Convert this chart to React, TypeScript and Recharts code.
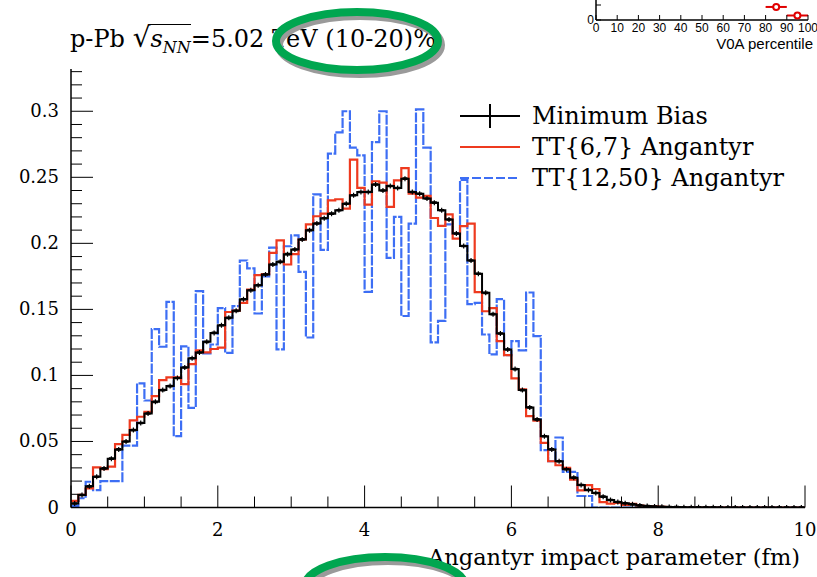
import React from 'react'
import { ComposedChart, Line, Scatter, XAxis, YAxis, ScatterChart, ErrorBar } from 'recharts'

// bin contents, 100 bins of 0.1 fm from 0 to 10 fm
const minBias = [
  0.003, 0.0095, 0.016, 0.0233, 0.0296, 0.037, 0.044, 0.05, 0.0586, 0.064,
  0.0712, 0.08, 0.0889, 0.0919, 0.098, 0.106, 0.113, 0.1174, 0.1254, 0.1322,
  0.138, 0.1436, 0.1489, 0.1577, 0.1645, 0.1683, 0.1764, 0.184, 0.186, 0.1918,
  0.1953, 0.203, 0.21, 0.215, 0.219, 0.2225, 0.225, 0.23, 0.2364, 0.2389,
  0.2389, 0.2445, 0.24, 0.2434, 0.2419, 0.249, 0.2389, 0.2376, 0.2339, 0.2308,
  0.225, 0.218, 0.2074, 0.198, 0.187, 0.177, 0.1625, 0.1464, 0.1317, 0.1196,
  0.1048, 0.0889, 0.0758, 0.0667, 0.054, 0.044, 0.035, 0.029, 0.0226, 0.017,
  0.0132, 0.011, 0.0082, 0.0057, 0.0042, 0.0032, 0.0024, 0.0016, 0.0011, 0.0008,
  0.0006, 0.0004, 0.0003, 0.0002, 0.0002, 0.0001, 0.0001, 0.0001, 0, 0,
  0, 0, 0, 0, 0, 0, 0, 0, 0, 0,
]

const tt67 = [
  0.005, 0.0095, 0.0145, 0.0304, 0.029, 0.031, 0.048, 0.055, 0.066, 0.0687,
  0.0725, 0.0843, 0.0964, 0.0985, 0.0985, 0.0934, 0.1085, 0.119, 0.1174, 0.12,
  0.121, 0.148, 0.149, 0.155, 0.165, 0.176, 0.1767, 0.1928, 0.2023, 0.184,
  0.1918, 0.2029, 0.2144, 0.2205, 0.2225, 0.2326, 0.2334, 0.2263, 0.2634, 0.242,
  0.2293, 0.247, 0.246, 0.2276, 0.2477, 0.257, 0.2376, 0.2346, 0.2359, 0.2192,
  0.2132, 0.222, 0.2036, 0.213, 0.215, 0.163, 0.1486, 0.151, 0.126, 0.1154,
  0.0977, 0.0894, 0.0692, 0.0657, 0.049, 0.035, 0.032, 0.03, 0.021, 0.013,
  0.017, 0.014, 0.004, 0.003, 0.0035, 0.002, 0.0027, 0.0015, 0.001, 0.0008,
  0.0005, 0.0003, 0.0002, 0, 0, 0, 0, 0, 0, 0,
  0, 0, 0, 0, 0, 0, 0, 0, 0, 0,
]

const tt1250 = [
  0.001, 0.007, 0.0195, 0.0132, 0.02, 0.02, 0.02, 0.0468, 0.0468, 0.094,
  0.081, 0.135, 0.1217, 0.1557, 0.054, 0.122, 0.0755, 0.1638, 0.1166, 0.1234,
  0.151, 0.117, 0.1524, 0.187, 0.181, 0.1469, 0.175, 0.1968, 0.1197, 0.1978,
  0.206, 0.1784, 0.1287, 0.237, 0.195, 0.268, 0.284, 0.3, 0.2724, 0.2666,
  0.1633, 0.2767, 0.3, 0.189, 0.22, 0.145, 0.215, 0.3014, 0.2724, 0.125,
  0.1413, 0.2144, 0.2074, 0.248, 0.154, 0.155, 0.131, 0.116, 0.1577, 0.1154,
  0.126, 0.119, 0.1628, 0.1297, 0.0435, 0.035, 0.053, 0.027, 0.027, 0.0087,
  0.0087, 0, 0, 0, 0, 0, 0, 0, 0, 0,
  0, 0, 0, 0, 0, 0, 0, 0, 0, 0,
  0, 0, 0, 0, 0, 0, 0, 0, 0, 0,
]

const xTicks = [0, 0.5, 1, 1.5, 2, 2.5, 3, 3.5, 4, 4.5, 5, 5.5, 6, 6.5, 7, 7.5, 8, 8.5, 9, 9.5, 10]
const yTicks = Array.from({ length: 34 }, (_, i) => i / 100)
const yLabels: Record<number, string> = { 0: '0', 5: '0.05', 10: '0.1', 15: '0.15', 20: '0.2', 25: '0.25', 30: '0.3' }

const legendItems = [
  { name: 'Minimum Bias', color: '#000000', dash: undefined, errorMark: true },
  { name: 'TT{6,7} Angantyr', color: '#ee3a1f', dash: undefined, errorMark: false },
  { name: 'TT{12,50} Angantyr', color: '#3d6ef4', dash: '9 3', errorMark: false },
]

// inset: V0A percentile classes
const insetPoints = [
  { x: 85, y: 0.087, ex: 5 },
  { x: 95, y: 0.03, ex: 5 },
]
const insetTicks = [0, 10, 20, 30, 40, 50, 60, 70, 80, 90, 100]

const SERIF = '"DejaVu Serif", serif'
const SANS = '"Liberation Sans", Arial, sans-serif'

const binWidth = 0.1
const rows = Array.from({ length: 101 }, (_, i) => ({
  x: Math.round(i * binWidth * 10) / 10,
  mb: minBias[Math.min(i, 99)],
  tt67: tt67[Math.min(i, 99)],
  tt1250: tt1250[Math.min(i, 99)],
}))
const centers = minBias.map((v, i) => ({ x: Math.round(i * 10 + 5) / 100, mb: v }))

function BottomTick(props: any) {
  const { x, y, payload } = props
  const v = payload.value
  const major = Math.abs(v / 2 - Math.round(v / 2)) < 1e-6
  return (
    <g>
      <line x1={x} x2={x} y1={y} y2={y - (major ? 22 : 11)} stroke="#000" strokeWidth={1} />
      {major && (
        <text x={x} y={y + 28} textAnchor="middle" fontFamily={SERIF} fontSize={18} fill="#000">
          {v}
        </text>
      )}
    </g>
  )
}

function TopTick(props: any) {
  const { x, y, payload } = props
  const v = payload.value
  const major = Math.abs(v / 2 - Math.round(v / 2)) < 1e-6
  return <line x1={x} x2={x} y1={y} y2={y + (major ? 22 : 11)} stroke="#000" strokeWidth={1} />
}

function LeftTick(props: any) {
  const { x, y, payload } = props
  const k = Math.round(payload.value * 100)
  const major = k % 5 === 0
  return (
    <g>
      <line x1={x} x2={x + (major ? 22 : 11)} y1={y} y2={y} stroke="#000" strokeWidth={1} />
      {major && (
        <text x={x - 12} y={y + 6} textAnchor="end" fontFamily={SERIF} fontSize={18} fill="#000">
          {yLabels[k]}
        </text>
      )}
    </g>
  )
}

function RightTick(props: any) {
  const { x, y, payload } = props
  const k = Math.round(payload.value * 100)
  const major = k % 5 === 0
  return <line x1={x} x2={x - (major ? 22 : 11)} y1={y} y2={y} stroke="#000" strokeWidth={1} />
}

function ErrMark(props: any) {
  const { cx, cy } = props
  if (cx == null || cy == null) return null
  return (
    <g>
      <line x1={cx} x2={cx} y1={cy - 2.5} y2={cy + 2.5} stroke="#000" strokeWidth={1.2} />
      <line x1={cx - 2.5} x2={cx + 2.5} y1={cy} y2={cy} stroke="#000" strokeWidth={2.6} />
    </g>
  )
}

function LegendBox() {
  return (
    <svg width={340} height={100} style={{ overflow: 'visible' }}>
      {legendItems.map((it, i) => {
        const cy = 18 + i * 31
        return (
          <g key={it.name}>
            <line x1={5} x2={65} y1={cy} y2={cy} stroke={it.color} strokeWidth={2} strokeDasharray={it.dash} />
            {it.errorMark && <line x1={35} x2={35} y1={cy - 12} y2={cy + 12} stroke="#000" strokeWidth={2} />}
            <text x={77} y={cy + 8} fontFamily={SERIF} fontSize={24} fill="#000">
              {it.name}
            </text>
          </g>
        )
      })}
    </svg>
  )
}

function InsetXTick(props: any) {
  const { x, y, payload } = props
  return (
    <g>
      <line x1={x} x2={x} y1={y} y2={y - 5} stroke="#000" strokeWidth={1} />
      <text x={x} y={y + 12} textAnchor="middle" fontFamily={SANS} fontSize={12} fill="#000">
        {payload.value}
      </text>
    </g>
  )
}

function InsetYTick(props: any) {
  const { x, y, payload } = props
  return (
    <g>
      <line x1={x} x2={x + 5} y1={y} y2={y} stroke="#000" strokeWidth={1} />
      {payload.value === 0 && (
        <text x={x - 2} y={y + 4} textAnchor="end" fontFamily={SANS} fontSize={12} fill="#000">
          0
        </text>
      )}
    </g>
  )
}

function InsetMarker(props: any) {
  const { cx, cy } = props
  if (cx == null || cy == null) return null
  return <circle cx={cx} cy={cy} r={3} fill="#fff" stroke="#e00000" strokeWidth={2} />
}

export default function App() {
  return (
    <div style={{ position: 'absolute', left: 0, top: 0, width: 817, height: 577, background: '#fff', overflow: 'hidden' }}>
      <div style={{ position: 'absolute', left: 0, top: 0 }}>
        <ComposedChart width={817} height={577} data={rows} margin={{ top: 69, right: 12, bottom: 0, left: 0 }}>
          <XAxis
            xAxisId="main"
            type="number"
            dataKey="x"
            domain={[0, 10]}
            ticks={xTicks}
            interval={0}
            height={69.5}
            tickSize={0}
            tickMargin={0}
            tickLine={false}
            tick={<BottomTick />}
            axisLine={{ stroke: '#000', strokeWidth: 1.5 }}
            allowDataOverflow
          />
          <XAxis
            xAxisId="top"
            orientation="top"
            type="number"
            dataKey="x"
            domain={[0, 10]}
            ticks={xTicks}
            interval={0}
            height={0}
            tickSize={0}
            tickMargin={0}
            tickLine={false}
            tick={<TopTick />}
            axisLine={{ stroke: '#000', strokeWidth: 1.5 }}
            allowDataOverflow
          />
          <YAxis
            yAxisId="main"
            type="number"
            domain={[0, 0.332]}
            ticks={yTicks}
            interval={0}
            width={71}
            tickSize={0}
            tickMargin={0}
            tickLine={false}
            tick={<LeftTick />}
            axisLine={{ stroke: '#000', strokeWidth: 1.5 }}
            allowDataOverflow
          />
          <YAxis
            yAxisId="right"
            orientation="right"
            type="number"
            domain={[0, 0.332]}
            ticks={yTicks}
            interval={0}
            width={0}
            tickSize={0}
            tickMargin={0}
            tickLine={false}
            tick={<RightTick />}
            axisLine={{ stroke: '#000', strokeWidth: 1.5 }}
            allowDataOverflow
          />
          <Line
            xAxisId="top"
            yAxisId="right"
            dataKey="mb"
            type="stepAfter"
            stroke="none"
            dot={false}
            activeDot={false}
            legendType="none"
            isAnimationActive={false}
          />
          <Line
            xAxisId="main"
            yAxisId="main"
            dataKey="tt1250"
            type="stepAfter"
            stroke="#3d6ef4"
            strokeWidth={2.2}
            strokeDasharray="10 1.5"
            dot={false}
            activeDot={false}
            isAnimationActive={false}
          />
          <Line
            xAxisId="main"
            yAxisId="main"
            dataKey="tt67"
            type="stepAfter"
            stroke="#ee3a1f"
            strokeWidth={2.2}
            dot={false}
            activeDot={false}
            isAnimationActive={false}
          />
          <Line
            xAxisId="main"
            yAxisId="main"
            dataKey="mb"
            type="stepAfter"
            stroke="#000"
            strokeWidth={2}
            dot={false}
            activeDot={false}
            isAnimationActive={false}
          />
          <Scatter
            xAxisId="main"
            yAxisId="main"
            data={centers}
            dataKey="mb"
            shape={<ErrMark />}
            isAnimationActive={false}
          />
        </ComposedChart>
      </div>

      <div style={{ position: 'absolute', left: 455, top: 98 }}>
        <LegendBox />
      </div>

      {/* V0A inset, mostly outside the page */}
      <div style={{ position: 'absolute', left: 556, top: -105 }}>
        <ScatterChart width={261} height={160} margin={{ top: 5, right: 9, bottom: 0, left: 0 }}>
          <XAxis
            type="number"
            dataKey="x"
            domain={[0, 100]}
            ticks={insetTicks}
            interval={0}
            height={35}
            tickSize={0}
            tickMargin={0}
            tickLine={false}
            tick={<InsetXTick />}
            axisLine={{ stroke: '#000', strokeWidth: 1.5 }}
          />
          <YAxis
            type="number"
            dataKey="y"
            domain={[0, 0.8]}
            ticks={[0, 0.1, 0.2, 0.3]}
            interval={0}
            width={40}
            tickSize={0}
            tickMargin={0}
            tickLine={false}
            tick={<InsetYTick />}
            axisLine={{ stroke: '#000', strokeWidth: 1.5 }}
          />
          <Scatter data={insetPoints} shape={<InsetMarker />} isAnimationActive={false}>
            <ErrorBar dataKey="ex" direction="x" width={0} stroke="#e00000" strokeWidth={2} />
          </Scatter>
        </ScatterChart>
      </div>
      <div
        style={{
          position: 'absolute',
          right: 4,
          top: 35,
          fontFamily: SANS,
          fontSize: 15,
          color: '#000',
          whiteSpace: 'nowrap',
        }}
      >
        V0A percentile
      </div>

      <div
        style={{
          position: 'absolute',
          left: 70,
          top: 21,
          fontFamily: SERIF,
          fontSize: 24,
          color: '#000',
          whiteSpace: 'nowrap',
        }}
      >
        p-Pb{' '}
        <span style={{ fontSize: 28 }}>√</span>
        <span style={{ borderTop: '1px solid #000', fontStyle: 'italic' }}>
          s<sub style={{ fontSize: 16 }}>NN</sub>
        </span>
        =5.02 TeV (10-20)%
      </div>

      <div
        style={{
          position: 'absolute',
          right: 17,
          top: 544,
          fontFamily: SERIF,
          fontSize: 22.5,
          color: '#000',
          whiteSpace: 'nowrap',
        }}
      >
        Angantyr impact parameter (fm)
      </div>

      <svg width={817} height={577} style={{ position: 'absolute', left: 0, top: 0, pointerEvents: 'none' }}>
        <ellipse cx={360} cy={45} rx={81} ry={29} fill="none" stroke="#9a9a9a" strokeWidth={8} />
        <ellipse cx={357} cy={41} rx={81} ry={29} fill="none" stroke="#00a650" strokeWidth={8} />
        <ellipse cx={388} cy={590} rx={80} ry={29} fill="none" stroke="#9a9a9a" strokeWidth={8} />
        <ellipse cx={385} cy={586} rx={80} ry={29} fill="none" stroke="#00a650" strokeWidth={8} />
      </svg>
    </div>
  )
}
